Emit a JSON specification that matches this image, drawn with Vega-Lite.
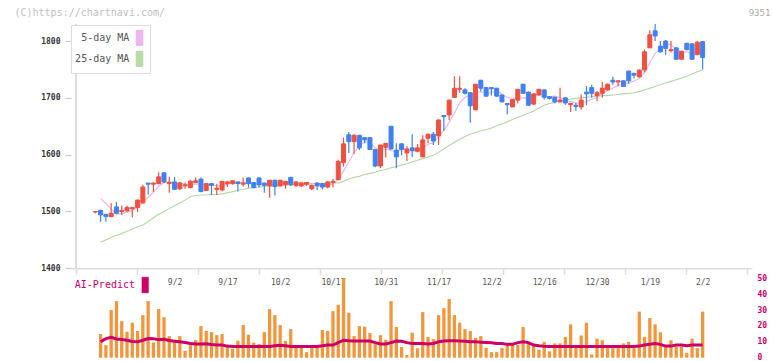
{
"$schema": "https://vega.github.io/schema/vega-lite/v6.json",
"autosize": {"type": "none"},
"padding": {"left": 71, "top": 24, "right": 20, "bottom": 3.3},
"width": 681,
"height": 333.7,
"background": "white",
"config": {"view": {"stroke": null}, "font": "DejaVu Sans Mono"},
"data": {"values": [
{"i":0,"d":"8/12","o":1499,"h":1501,"l":1497,"c":1500,"m5":null,"m25":null,"ai":null,"ail":null},
{"i":1,"d":"8/13","o":1502,"h":1503,"l":1482,"c":1494,"m5":1523,"m25":1446,"ai":14.9,"ail":10},
{"i":2,"d":"8/14","o":1495,"h":1495,"l":1482,"c":1491,"m5":1514,"m25":1450,"ai":7.9,"ail":12},
{"i":3,"d":"8/15","o":1491,"h":1515,"l":1490,"c":1497,"m5":1504,"m25":1454,"ai":30,"ail":12.8},
{"i":4,"d":"8/18","o":1508,"h":1517,"l":1495,"c":1497,"m5":1495.8,"m25":1458,"ai":35.6,"ail":11.8},
{"i":5,"d":"8/19","o":1500,"h":1510,"l":1494,"c":1502,"m5":1496.2,"m25":1461,"ai":23,"ail":11.5},
{"i":6,"d":"8/20","o":1501,"h":1510,"l":1500,"c":1507,"m5":1498.8,"m25":1465,"ai":16.3,"ail":11},
{"i":7,"d":"8/21","o":1505,"h":1507,"l":1490,"c":1507,"m5":1502,"m25":1469,"ai":22,"ail":10.2},
{"i":8,"d":"8/22","o":1507,"h":1521,"l":1499,"c":1520,"m5":1506.6,"m25":1473,"ai":16.8,"ail":10},
{"i":9,"d":"8/25","o":1515,"h":1547,"l":1514,"c":1543,"m5":1515.8,"m25":1476,"ai":26.8,"ail":11},
{"i":10,"d":"8/26","o":1550,"h":1550,"l":1530,"c":1548,"m5":1525,"m25":1482,"ai":35.6,"ail":12.1},
{"i":11,"d":"8/27","o":1548,"h":1551,"l":1534,"c":1550,"m5":1533.6,"m25":1489,"ai":9.6,"ail":12},
{"i":12,"d":"8/28","o":1549,"h":1569,"l":1548,"c":1561,"m5":1544.4,"m25":1495,"ai":30.6,"ail":11.3},
{"i":13,"d":"8/29","o":1568,"h":1569,"l":1550,"c":1552,"m5":1550.8,"m25":1500,"ai":25.5,"ail":11.6},
{"i":14,"d":"9/1","o":1549,"h":1561,"l":1533,"c":1551,"m5":1552.4,"m25":1505,"ai":13.6,"ail":10.8},
{"i":15,"d":"9/2","o":1552,"h":1561,"l":1538,"c":1539,"m5":1550.6,"m25":1510,"ai":10.5,"ail":10.4},
{"i":16,"d":"9/3","o":1540,"h":1552,"l":1538,"c":1550,"m5":1550.6,"m25":1515,"ai":13.6,"ail":10},
{"i":17,"d":"9/4","o":1545,"h":1551,"l":1540,"c":1547,"m5":1547.8,"m25":1520,"ai":4.4,"ail":9.6},
{"i":18,"d":"9/5","o":1542,"h":1556,"l":1541,"c":1553,"m5":1548,"m25":1526,"ai":7.9,"ail":9},
{"i":19,"d":"9/8","o":1551,"h":1560,"l":1550,"c":1554,"m5":1548.6,"m25":1528,"ai":11.1,"ail":8.6},
{"i":20,"d":"9/9","o":1557,"h":1560,"l":1534,"c":1535,"m5":1547.8,"m25":1529,"ai":19.9,"ail":8.6},
{"i":21,"d":"9/10","o":1537,"h":1550,"l":1536,"c":1549,"m5":1547.6,"m25":1529,"ai":16.8,"ail":8.8},
{"i":22,"d":"9/11","o":1549,"h":1550,"l":1529,"c":1546,"m5":1547.4,"m25":1530,"ai":16.1,"ail":8.3},
{"i":23,"d":"9/12","o":1539,"h":1549,"l":1529,"c":1541,"m5":1545,"m25":1530,"ai":14.2,"ail":8},
{"i":24,"d":"9/16","o":1538,"h":1553,"l":1535,"c":1553,"m5":1544.8,"m25":1531,"ai":14.9,"ail":8},
{"i":25,"d":"9/17","o":1549,"h":1553,"l":1543,"c":1552,"m5":1548.2,"m25":1533,"ai":7.3,"ail":7.3},
{"i":26,"d":"9/18","o":1549,"h":1555,"l":1547,"c":1554,"m5":1549.2,"m25":1535,"ai":5.6,"ail":7},
{"i":27,"d":"9/19","o":1552,"h":1553,"l":1535,"c":1549,"m5":1549.8,"m25":1537,"ai":10.7,"ail":7},
{"i":28,"d":"9/22","o":1548,"h":1560,"l":1544,"c":1550,"m5":1551.6,"m25":1539,"ai":20.5,"ail":7},
{"i":29,"d":"9/24","o":1559,"h":1560,"l":1542,"c":1549,"m5":1550.8,"m25":1541,"ai":14.5,"ail":7},
{"i":30,"d":"9/25","o":1551,"h":1552,"l":1541,"c":1542,"m5":1548.8,"m25":1542,"ai":9.4,"ail":7},
{"i":31,"d":"9/26","o":1559,"h":1560,"l":1542,"c":1547,"m5":1547.4,"m25":1543,"ai":8.6,"ail":7},
{"i":32,"d":"9/29","o":1550,"h":1551,"l":1533,"c":1546,"m5":1546.8,"m25":1544,"ai":16.1,"ail":7},
{"i":33,"d":"9/30","o":1545,"h":1555,"l":1524,"c":1555,"m5":1547.8,"m25":1545,"ai":30.6,"ail":7},
{"i":34,"d":"10/1","o":1555,"h":1556,"l":1528,"c":1544,"m5":1546.8,"m25":1545,"ai":26.8,"ail":7.5},
{"i":35,"d":"10/2","o":1545,"h":1556,"l":1544,"c":1555,"m5":1549.4,"m25":1546,"ai":20.5,"ail":7.8},
{"i":36,"d":"10/3","o":1547,"h":1554,"l":1540,"c":1553,"m5":1550.6,"m25":1547,"ai":10.5,"ail":7.5},
{"i":37,"d":"10/6","o":1560,"h":1561,"l":1545,"c":1547,"m5":1550.8,"m25":1547,"ai":18,"ail":7},
{"i":38,"d":"10/7","o":1546,"h":1553,"l":1543,"c":1552,"m5":1550.2,"m25":1548,"ai":7.3,"ail":7},
{"i":39,"d":"10/8","o":1545,"h":1551,"l":1543,"c":1550,"m5":1551.4,"m25":1548,"ai":6.9,"ail":7},
{"i":40,"d":"10/9","o":1548,"h":1552,"l":1545,"c":1551,"m5":1550.6,"m25":1548,"ai":3.5,"ail":7},
{"i":41,"d":"10/10","o":1540,"h":1547,"l":1538,"c":1546,"m5":1549.2,"m25":1549,"ai":6.9,"ail":7},
{"i":42,"d":"10/14","o":1550,"h":1551,"l":1538,"c":1545,"m5":1548.8,"m25":1549,"ai":6.7,"ail":7},
{"i":43,"d":"10/15","o":1549,"h":1550,"l":1539,"c":1543,"m5":1547,"m25":1549,"ai":17.4,"ail":7.5},
{"i":44,"d":"10/16","o":1543,"h":1553,"l":1541,"c":1552,"m5":1547.4,"m25":1549,"ai":16.8,"ail":8},
{"i":45,"d":"10/17","o":1551,"h":1557,"l":1542,"c":1553,"m5":1547.8,"m25":1550,"ai":29.3,"ail":8},
{"i":46,"d":"10/20","o":1556,"h":1591,"l":1555,"c":1588,"m5":1556.2,"m25":1550,"ai":33.3,"ail":9.5},
{"i":47,"d":"10/21","o":1586,"h":1630,"l":1579,"c":1619,"m5":1571,"m25":1553,"ai":50,"ail":11},
{"i":48,"d":"10/22","o":1635,"h":1640,"l":1603,"c":1623,"m5":1587,"m25":1557,"ai":28.3,"ail":10.6},
{"i":49,"d":"10/23","o":1623,"h":1636,"l":1601,"c":1634,"m5":1603.4,"m25":1560,"ai":13.6,"ail":10.5},
{"i":50,"d":"10/24","o":1634,"h":1635,"l":1608,"c":1612,"m5":1615.2,"m25":1562,"ai":19.9,"ail":10.5},
{"i":51,"d":"10/27","o":1630,"h":1631,"l":1620,"c":1626,"m5":1622.8,"m25":1565,"ai":19.5,"ail":10.5},
{"i":52,"d":"10/28","o":1630,"h":1630,"l":1609,"c":1609,"m5":1620.8,"m25":1567,"ai":15.5,"ail":10.5},
{"i":53,"d":"10/29","o":1609,"h":1609,"l":1578,"c":1580,"m5":1612.2,"m25":1569,"ai":8.6,"ail":9.5},
{"i":54,"d":"10/30","o":1580,"h":1617,"l":1576,"c":1617,"m5":1608.8,"m25":1572,"ai":14.2,"ail":8.6},
{"i":55,"d":"10/31","o":1613,"h":1620,"l":1595,"c":1620,"m5":1610.4,"m25":1574,"ai":11.3,"ail":8.6},
{"i":56,"d":"11/4","o":1650,"h":1650,"l":1609,"c":1610,"m5":1607.2,"m25":1577,"ai":35.6,"ail":9.5},
{"i":57,"d":"11/5","o":1608,"h":1620,"l":1576,"c":1596,"m5":1604.6,"m25":1579,"ai":19.3,"ail":10.5},
{"i":58,"d":"11/6","o":1619,"h":1620,"l":1599,"c":1609,"m5":1610.4,"m25":1582,"ai":6.7,"ail":10.4},
{"i":59,"d":"11/7","o":1603,"h":1615,"l":1589,"c":1610,"m5":1609,"m25":1584,"ai":1.7,"ail":9.5},
{"i":60,"d":"11/10","o":1612,"h":1636,"l":1596,"c":1607,"m5":1606.4,"m25":1587,"ai":15.7,"ail":9},
{"i":61,"d":"11/11","o":1606,"h":1619,"l":1604,"c":1612,"m5":1606.8,"m25":1590,"ai":5.9,"ail":9},
{"i":62,"d":"11/12","o":1596,"h":1634,"l":1596,"c":1626,"m5":1612.8,"m25":1593,"ai":28.7,"ail":9},
{"i":63,"d":"11/13","o":1629,"h":1637,"l":1620,"c":1636,"m5":1618.2,"m25":1596,"ai":13,"ail":8.6},
{"i":64,"d":"11/14","o":1636,"h":1640,"l":1617,"c":1624,"m5":1621,"m25":1599,"ai":11.7,"ail":9},
{"i":65,"d":"11/17","o":1633,"h":1662,"l":1617,"c":1661,"m5":1631.8,"m25":1604,"ai":26.8,"ail":10},
{"i":66,"d":"11/18","o":1669,"h":1670,"l":1642,"c":1667,"m5":1642.8,"m25":1610,"ai":31.2,"ail":10.5},
{"i":67,"d":"11/19","o":1670,"h":1697,"l":1661,"c":1696,"m5":1656.8,"m25":1616,"ai":36.9,"ail":10.7},
{"i":68,"d":"11/20","o":1701,"h":1738,"l":1700,"c":1717,"m5":1673,"m25":1622,"ai":26.8,"ail":10.7},
{"i":69,"d":"11/21","o":1715,"h":1738,"l":1709,"c":1717,"m5":1691.6,"m25":1627,"ai":22,"ail":10.5},
{"i":70,"d":"11/25","o":1714,"h":1717,"l":1706,"c":1708,"m5":1701,"m25":1632,"ai":18,"ail":10.3},
{"i":71,"d":"11/26","o":1709,"h":1710,"l":1656,"c":1686,"m5":1704.8,"m25":1636,"ai":16.8,"ail":10},
{"i":72,"d":"11/27","o":1679,"h":1724,"l":1678,"c":1724,"m5":1710.4,"m25":1639,"ai":12.4,"ail":10},
{"i":73,"d":"11/28","o":1731,"h":1732,"l":1711,"c":1717,"m5":1710.4,"m25":1642,"ai":13.6,"ail":9.8},
{"i":74,"d":"12/1","o":1718,"h":1719,"l":1702,"c":1703,"m5":1707.6,"m25":1644,"ai":6.1,"ail":9.6},
{"i":75,"d":"12/2","o":1718,"h":1719,"l":1704,"c":1716,"m5":1709.2,"m25":1647,"ai":3.5,"ail":9.4},
{"i":76,"d":"12/3","o":1717,"h":1718,"l":1702,"c":1703,"m5":1712.6,"m25":1651,"ai":3.5,"ail":9},
{"i":77,"d":"12/4","o":1705,"h":1706,"l":1692,"c":1693,"m5":1706.4,"m25":1654,"ai":6.1,"ail":9},
{"i":78,"d":"12/5","o":1690,"h":1690,"l":1671,"c":1688,"m5":1700.6,"m25":1658,"ai":8.4,"ail":8.4},
{"i":79,"d":"12/8","o":1684,"h":1697,"l":1684,"c":1697,"m5":1699.4,"m25":1662,"ai":8,"ail":8.4},
{"i":80,"d":"12/9","o":1696,"h":1715,"l":1690,"c":1715,"m5":1699.2,"m25":1666,"ai":8,"ail":9.5},
{"i":81,"d":"12/10","o":1724,"h":1725,"l":1707,"c":1708,"m5":1700.2,"m25":1669,"ai":19.3,"ail":10},
{"i":82,"d":"12/11","o":1710,"h":1711,"l":1686,"c":1687,"m5":1699,"m25":1673,"ai":10,"ail":9.5},
{"i":83,"d":"12/12","o":1689,"h":1708,"l":1688,"c":1707,"m5":1702.8,"m25":1677,"ai":8,"ail":8},
{"i":84,"d":"12/15","o":1705,"h":1716,"l":1704,"c":1715,"m5":1706.4,"m25":1682,"ai":5,"ail":7.5},
{"i":85,"d":"12/16","o":1714,"h":1715,"l":1697,"c":1701,"m5":1703.6,"m25":1687,"ai":10,"ail":7.2},
{"i":86,"d":"12/17","o":1702,"h":1703,"l":1697,"c":1699,"m5":1701.8,"m25":1690,"ai":4,"ail":7},
{"i":87,"d":"12/18","o":1701,"h":1702,"l":1690,"c":1693,"m5":1703,"m25":1692,"ai":9,"ail":7},
{"i":88,"d":"12/19","o":1693,"h":1718,"l":1692,"c":1696,"m5":1700.8,"m25":1694,"ai":9,"ail":7},
{"i":89,"d":"12/22","o":1700,"h":1701,"l":1688,"c":1691,"m5":1696,"m25":1696,"ai":13,"ail":7},
{"i":90,"d":"12/23","o":1688,"h":1691,"l":1675,"c":1690,"m5":1693.6,"m25":1698,"ai":21,"ail":7},
{"i":91,"d":"12/24","o":1687,"h":1691,"l":1677,"c":1685,"m5":1690.8,"m25":1699,"ai":8,"ail":7},
{"i":92,"d":"12/25","o":1684,"h":1706,"l":1679,"c":1696,"m5":1691.4,"m25":1700,"ai":14,"ail":7},
{"i":93,"d":"12/26","o":1710,"h":1721,"l":1687,"c":1707,"m5":1693.6,"m25":1701,"ai":22,"ail":7},
{"i":94,"d":"12/29","o":1718,"h":1723,"l":1700,"c":1708,"m5":1697,"m25":1702,"ai":2,"ail":7},
{"i":95,"d":"12/30","o":1704,"h":1712,"l":1694,"c":1709,"m5":1701,"m25":1703,"ai":12,"ail":7},
{"i":96,"d":"1/5","o":1708,"h":1728,"l":1700,"c":1717,"m5":1707.4,"m25":1704,"ai":11,"ail":7},
{"i":97,"d":"1/6","o":1714,"h":1725,"l":1713,"c":1724,"m5":1713,"m25":1704,"ai":6,"ail":7},
{"i":98,"d":"1/7","o":1731,"h":1737,"l":1723,"c":1728,"m5":1717.2,"m25":1705,"ai":6,"ail":7},
{"i":99,"d":"1/8","o":1728,"h":1731,"l":1720,"c":1730,"m5":1721.6,"m25":1706,"ai":6,"ail":7},
{"i":100,"d":"1/9","o":1730,"h":1731,"l":1719,"c":1720,"m5":1723.8,"m25":1707,"ai":9,"ail":7},
{"i":101,"d":"1/13","o":1747,"h":1748,"l":1725,"c":1730,"m5":1726.4,"m25":1708,"ai":10,"ail":7},
{"i":102,"d":"1/14","o":1743,"h":1744,"l":1734,"c":1740,"m5":1729.6,"m25":1709,"ai":6,"ail":7},
{"i":103,"d":"1/15","o":1737,"h":1750,"l":1736,"c":1749,"m5":1733.8,"m25":1711,"ai":29,"ail":7.3},
{"i":104,"d":"1/16","o":1749,"h":1785,"l":1745,"c":1781,"m5":1744,"m25":1714,"ai":13,"ail":8},
{"i":105,"d":"1/19","o":1788,"h":1819,"l":1788,"c":1811,"m5":1762.2,"m25":1717,"ai":25,"ail":8.5},
{"i":106,"d":"1/20","o":1818,"h":1830,"l":1800,"c":1809,"m5":1778,"m25":1720,"ai":21,"ail":9},
{"i":107,"d":"1/21","o":1791,"h":1800,"l":1780,"c":1781,"m5":1786.2,"m25":1723,"ai":16,"ail":8.4},
{"i":108,"d":"1/22","o":1800,"h":1802,"l":1776,"c":1787,"m5":1793.8,"m25":1726,"ai":7,"ail":7.3},
{"i":109,"d":"1/23","o":1783,"h":1800,"l":1780,"c":1785,"m5":1794.4,"m25":1729,"ai":11,"ail":7.3},
{"i":110,"d":"1/26","o":1788,"h":1789,"l":1767,"c":1768,"m5":1785.8,"m25":1732,"ai":7,"ail":8},
{"i":111,"d":"1/27","o":1768,"h":1783,"l":1767,"c":1782,"m5":1780.4,"m25":1735,"ai":7,"ail":8},
{"i":112,"d":"1/28","o":1796,"h":1797,"l":1784,"c":1785,"m5":1781.2,"m25":1738,"ai":3,"ail":7.5},
{"i":113,"d":"1/29","o":1795,"h":1796,"l":1767,"c":1768,"m5":1777.4,"m25":1742,"ai":12,"ail":8},
{"i":114,"d":"1/30","o":1776,"h":1800,"l":1775,"c":1798,"m5":1780.2,"m25":1746,"ai":6,"ail":8},
{"i":115,"d":"2/2","o":1799,"h":1800,"l":1750,"c":1771,"m5":1780.8,"m25":1749,"ai":29,"ail":8}
]},
"resolve": {"scale": {"y": "independent"}, "axis": {"x": "independent", "y": "independent"}},
"layer": [
{
"encoding": {
  "x": {"field": "i", "type": "quantitative", "title": null,
    "scale": {"domain": [-3.66, 123.4], "nice": false, "zero": false},
    "axis": {"orient": "bottom", "offset": -89.4,
      "values": [-3.66, 7.89, 19.44, 30.99, 42.54, 54.1, 65.65, 77.2, 88.75, 100.3, 111.85, 123.4],
      "labels": false, "grid": false, "domainColor": "#dddddd", "domainWidth": 1.5,
      "tickColor": "#dddddd", "tickSize": 6, "tickWidth": 1.5}}
},
"layer": [
  {"mark": {"type": "rule", "color": "#dddddd", "strokeWidth": 1.5},
   "encoding": {
     "x": {"datum": -3.66, "type": "quantitative"},
     "y": {"datum": 1400, "type": "quantitative", "title": "(C)https://chartnavi.com/", "scale": {"domain": [1242.6, 1830], "nice": false, "zero": false}},
     "y2": {"datum": 1830}
   }},
  {"mark": {"type": "line", "strokeWidth": 1.1},
   "encoding": {
     "y": {"field": "m25", "type": "quantitative", "title": "(C)https://chartnavi.com/",
       "scale": {"domain": [1242.6, 1830], "nice": false, "zero": false},
       "axis": {"orient": "left", "values": [1400, 1500, 1600, 1700, 1800], "format": "d", "grid": false, "domain": false,
         "tickColor": "#cccccc", "tickSize": 6, "tickWidth": 1.2,
         "labelPadding": 5, "labelFont": "DejaVu Sans Mono", "labelFontSize": 8, "labelFontWeight": "bold", "labelColor": "#333333",
         "titleAngle": 0, "titleX": -57, "titleY": -11.5, "titleAlign": "left", "titleBaseline": "middle",
         "titleFont": "DejaVu Sans Mono", "titleFontSize": 10, "titleFontWeight": "normal", "titleColor": "#c0c0c0"}},
     "stroke": {"datum": "25-day MA",
       "scale": {"domain": ["5-day MA", "25-day MA"], "range": ["#e8b4e8", "#b0d8a4"]},
       "legend": {"orient": "none", "legendX": 0, "legendY": 1, "title": null, "padding": 4.3,
         "strokeColor": "#dddddd", "fillColor": "#ffffff",
         "symbolType": "M-0.41,-0.94L0.41,-0.94L0.41,0.94L-0.41,0.94Z", "symbolSize": 256,
         "symbolStrokeColor": "#555555", "symbolStrokeWidth": 1,
         "labelAlign": "right", "labelOffset": -18.7, "symbolOffset": 55.7, "rowPadding": 0,
         "labelFont": "DejaVu Sans Mono", "labelFontSize": 10, "labelColor": "#555555",
         "encode": {"symbols": {"update": {
           "fill": [{"test": "datum.value === '5-day MA'", "value": "#f0b4f0"}, {"value": "#b8dca8"}],
           "stroke": {"value": "#555555"}, "strokeWidth": {"value": 1}, "opacity": {"value": 1}}}}}}
   }},
  {"mark": {"type": "line", "strokeWidth": 1.1},
   "encoding": {
     "y": {"field": "m5", "type": "quantitative", "title": "(C)https://chartnavi.com/", "scale": {"domain": [1242.6, 1830], "nice": false, "zero": false}},
     "stroke": {"datum": "5-day MA"}
   }},
  {"mark": {"type": "rule", "strokeWidth": 1.2},
   "encoding": {
     "y": {"field": "l", "type": "quantitative", "title": "(C)https://chartnavi.com/", "scale": {"domain": [1242.6, 1830], "nice": false, "zero": false}},
     "y2": {"field": "h"},
     "color": {"condition": {"test": "datum.c >= datum.o", "value": "#f05040"}, "value": "#4080f0"}
   }},
  {"mark": {"type": "bar", "width": 4, "strokeWidth": 1},
   "encoding": {
     "y": {"field": "o", "type": "quantitative", "title": "(C)https://chartnavi.com/", "scale": {"domain": [1242.6, 1830], "nice": false, "zero": false}},
     "y2": {"field": "c"},
     "fill": {"condition": {"test": "datum.c >= datum.o", "value": "#f05040"}, "value": "#4080f0"},
     "stroke": {"condition": {"test": "datum.c >= datum.o", "value": "#f05040"}, "value": "#4080f0"}
   }}
]
},
{
"encoding": {
  "x": {"field": "i", "type": "quantitative", "title": null,
    "scale": {"domain": [-3.66, 123.4], "nice": false, "zero": false},
    "axis": {"orient": "bottom", "offset": -89.4, "values": [15, 25, 35, 45, 55, 65, 75, 85, 95, 105, 115],
      "labelExpr": "['9/2','9/17','10/2','10/17','10/31','11/17','12/2','12/16','12/30','1/19','2/2'][round((datum.value-15)/10)]",
      "domain": false, "ticks": false, "tickSize": 0, "grid": false, "labelPadding": 10, "labelBaseline": "top",
      "labelFont": "DejaVu Sans Mono", "labelFontSize": 8, "labelColor": "#555555", "labelFlush": false, "labelOverlap": false}}
},
"layer": [
  {"mark": {"type": "bar", "width": 3.3, "color": "#f2963e"},
   "encoding": {
     "y": {"field": "ai", "type": "quantitative", "title": "9351",
       "scale": {"domain": [0, 210.1], "nice": false, "zero": true},
       "axis": {"orient": "right", "values": [0, 10, 20, 30, 40, 50], "domain": false, "ticks": false, "grid": false,
         "labelPadding": 5, "labelAlign": "left", "labelBaseline": "middle",
         "labelFont": "DejaVu Sans Mono", "labelFontSize": 8, "labelFontWeight": "bold", "labelColor": "#cc0066",
         "titleAngle": 0, "titleX": 7, "titleY": -11.5, "titleAlign": "center", "titleBaseline": "middle",
         "titleFont": "DejaVu Sans Mono", "titleFontSize": 9, "titleFontWeight": "normal", "titleColor": "#aaaaaa"}}
   }},
  {"mark": {"type": "line", "strokeWidth": 3},
   "encoding": {
     "y": {"field": "ail", "type": "quantitative", "title": "9351", "scale": {"domain": [0, 210.1], "nice": false, "zero": true}},
     "color": {"datum": "AI-Predict",
       "scale": {"domain": ["AI-Predict"], "range": ["#cc0066"]},
       "legend": {"orient": "none", "legendX": 10, "legendY": 252.5, "title": null, "padding": 0,
         "symbolType": "M-0.41,-0.98L0.41,-0.98L0.41,0.98L-0.41,0.98Z", "symbolSize": 256,
         "labelAlign": "right", "labelOffset": -18.7, "symbolOffset": 55.7,
         "labelFont": "DejaVu Sans Mono", "labelFontSize": 10, "labelColor": "#cc0066",
         "encode": {"symbols": {"update": {"fill": {"value": "#cc0066"}, "stroke": {"value": "#cc0066"}, "strokeWidth": {"value": 0.5}, "opacity": {"value": 1}}}}}}
   }}
]
}
]
}
